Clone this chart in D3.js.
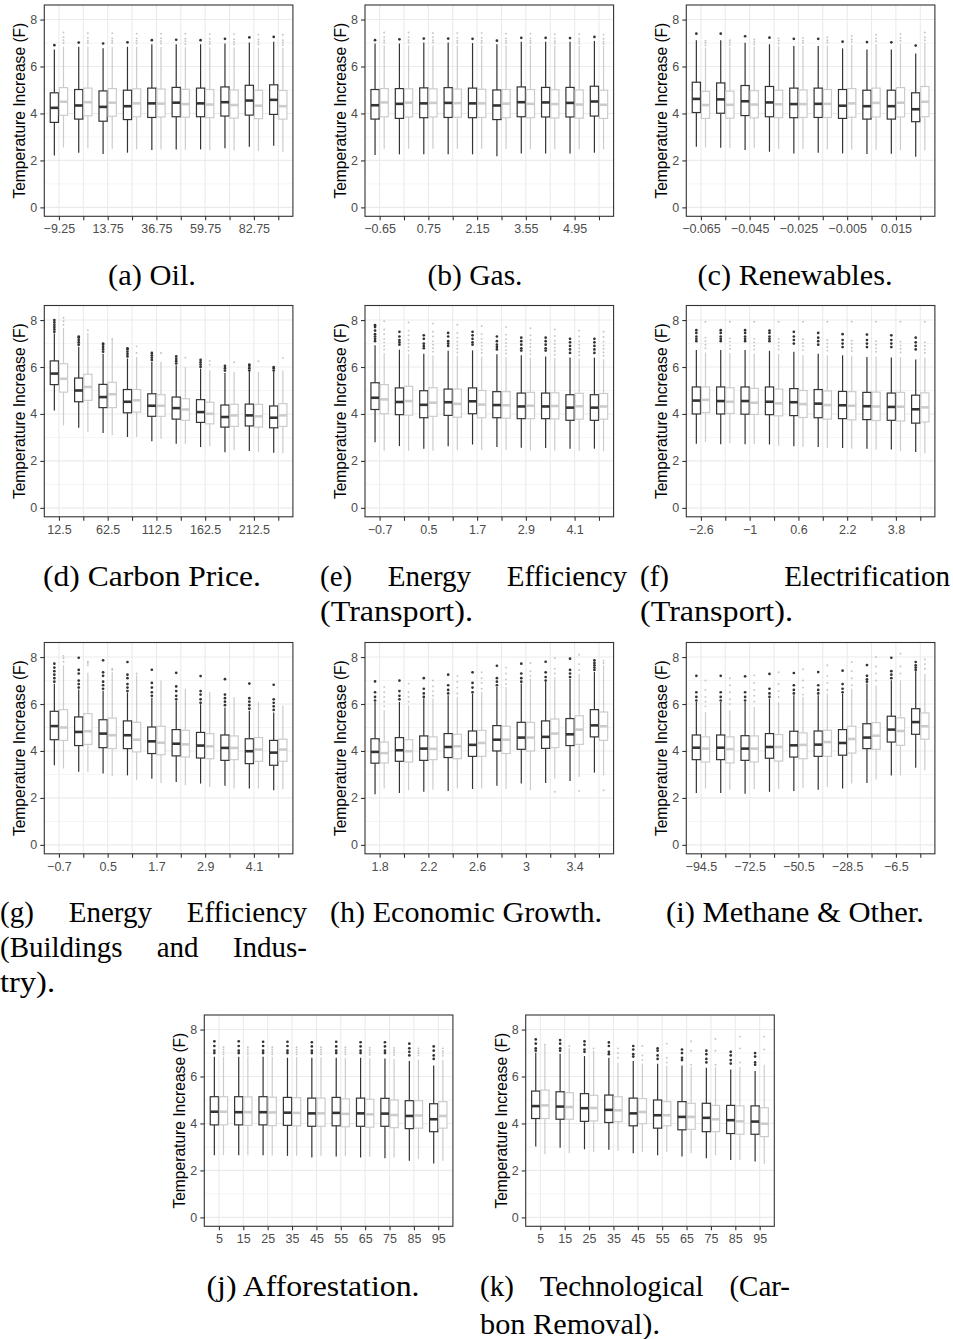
<!DOCTYPE html>
<html><head><meta charset="utf-8">
<script src="https://cdn.jsdelivr.net/npm/d3@7"></script>
<style>body{margin:0;background:#fff}svg{display:block}</style>
</head><body><svg id="c" width="953" height="1339"></svg>
<script>
// ---------- tick / category data ----------
const yTicks = [0, 2, 4, 6, 8];
const yMinor = [1, 3, 5, 7];
const catOil = [-9.25, 2.25, 13.75, 25.25, 36.75, 48.25, 59.75, 71.25, 82.75, 94.25];
const catGas = [-0.65, 0.05, 0.75, 1.45, 2.15, 2.85, 3.55, 4.25, 4.95, 5.65];
const catRen = [-0.065, -0.055, -0.045, -0.035, -0.025, -0.015, -0.005, 0.005, 0.015, 0.025];
const catCarbon = [12.5, 37.5, 62.5, 87.5, 112.5, 137.5, 162.5, 187.5, 212.5, 237.5];
const catEffT = [-0.7, -0.1, 0.5, 1.1, 1.7, 2.3, 2.9, 3.5, 4.1, 4.7];
const catElec = [-2.6, -1.8, -1, -0.2, 0.6, 1.4, 2.2, 3, 3.8, 4.6];
const catEffB = [-0.7, -0.1, 0.5, 1.1, 1.7, 2.3, 2.9, 3.5, 4.1, 4.7];
const catGrowth = [1.8, 2, 2.2, 2.4, 2.6, 2.8, 3, 3.2, 3.4, 3.6];
const catMeth = [-94.5, -83.5, -72.5, -61.5, -50.5, -39.5, -28.5, -17.5, -6.5, 4.5];
const catAff = [5, 15, 25, 35, 45, 55, 65, 75, 85, 95];
const catTech = [5, 15, 25, 35, 45, 55, 65, 75, 85, 95];

// ---------- box stats: [lower whisker, q1, median, q3, upper whisker] ----------
const oilDark = [[2.21,3.62,4.24,4.88,6.72],[2.33,3.76,4.34,5.02,6.84],[2.27,3.67,4.28,4.96,6.78],[2.33,3.74,4.31,4.99,6.84],[2.44,3.83,4.43,5.08,6.95],[2.47,3.86,4.46,5.11,6.95],[2.47,3.86,4.43,5.08,6.95],[2.52,3.89,4.48,5.13,6.98],[2.58,3.93,4.55,5.2,7.02],[2.62,3.96,4.58,5.22,7.05]];
const oilDarkOut = [[6.91],[7.02],[6.98],[7.03],[7.12],[7.14],[7.12],[7.18],[7.24],[7.26]];
const oilLight = [[2.55,3.92,4.5,5.1,6.85],[2.52,3.9,4.48,5.08,6.85],[2.5,3.88,4.46,5.06,6.84],[2.48,3.86,4.43,5.05,6.84],[2.47,3.85,4.42,5.04,6.83],[2.45,3.84,4.4,5.03,6.82],[2.43,3.82,4.38,5.02,6.82],[2.42,3.8,4.36,5.0,6.81],[2.4,3.78,4.33,4.99,6.8],[2.37,3.76,4.31,4.98,6.8]];
const oilLightOut = [[7.0,7.12,7.25,7.45],[7.0,7.1,7.22,7.42],[7.0,7.1,7.2,7.42],[6.98,7.1,7.2,7.4],[6.98,7.08,7.2,7.4],[6.96,7.08,7.18,7.4],[6.96,7.06,7.18,7.38],[6.95,7.05,7.16,7.38],[6.95,7.05,7.15,7.36],[6.92,7.02,7.12,7.35]];

const gasDark = [[2.23,3.76,4.35,5.02,6.98],[2.26,3.79,4.41,5.06,6.98],[2.26,3.82,4.43,5.09,7.02],[2.26,3.83,4.45,5.1,7.02],[2.26,3.82,4.43,5.08,7.0],[2.18,3.74,4.34,5.0,6.95],[2.3,3.86,4.48,5.13,7.05],[2.3,3.85,4.47,5.11,7.05],[2.3,3.85,4.45,5.11,7.05],[2.33,3.89,4.51,5.16,7.09]];
const gasDarkOut = [[7.12],[7.16],[7.19],[7.19],[7.18],[7.1],[7.22],[7.22],[7.21],[7.26]];
const gasLight = [[2.5,3.86,4.47,5.06,6.9],[2.5,3.85,4.46,5.05,6.9],[2.5,3.85,4.45,5.05,6.9],[2.5,3.84,4.44,5.04,6.9],[2.5,3.83,4.43,5.03,6.9],[2.49,3.82,4.42,5.02,6.9],[2.48,3.82,4.41,5.02,6.9],[2.48,3.81,4.4,5.01,6.9],[2.48,3.8,4.38,5.0,6.88],[2.47,3.79,4.37,4.99,6.88]];
const gasLightOut = [[7.02,7.12,7.25,7.45],[7.02,7.12,7.25,7.45],[7.02,7.12,7.25,7.43],[7.0,7.1,7.22,7.42],[7.0,7.1,7.22,7.42],[7.0,7.1,7.2,7.4],[7.0,7.1,7.2,7.4],[6.98,7.08,7.2,7.38],[6.98,7.08,7.18,7.38],[6.96,7.06,7.18,7.36]];

const renDark = [[2.58,4.04,4.62,5.33,7.12],[2.54,4.01,4.6,5.3,7.12],[2.44,3.91,4.52,5.19,7.01],[2.37,3.86,4.47,5.15,6.95],[2.3,3.82,4.4,5.08,6.87],[2.33,3.83,4.41,5.08,6.87],[2.3,3.79,4.33,5.02,6.77],[2.27,3.76,4.31,4.99,6.72],[2.28,3.76,4.31,4.99,6.72],[2.16,3.65,4.18,4.88,6.55]];
const renDarkOut = [[7.4],[7.4],[7.29],[7.23],[7.18],[7.18],[7.06],[7.04],[7.03],[6.89]];
const renLight = [[2.55,3.79,4.36,4.94,6.8],[2.53,3.8,4.37,4.95,6.82],[2.52,3.81,4.38,4.97,6.85],[2.5,3.82,4.39,4.99,6.87],[2.5,3.83,4.4,5.0,6.88],[2.48,3.83,4.41,5.02,6.9],[2.46,3.84,4.43,5.06,6.93],[2.45,3.85,4.45,5.08,6.95],[2.44,3.85,4.46,5.1,6.98],[2.42,3.86,4.5,5.15,7.02]];
const renLightOut = [[6.9,7.0,7.1],[6.92,7.02,7.12],[6.95,7.05,7.15],[6.98,7.1,7.2],[7.0,7.1,7.22],[7.02,7.12,7.25],[7.05,7.15,7.3],[7.08,7.2,7.35],[7.1,7.22,7.38],[7.12,7.25,7.45]];

const carbonDark = [[4.15,5.25,5.72,6.26,7.43],[3.41,4.52,5.0,5.53,6.86],[3.19,4.27,4.72,5.26,6.57],[3.02,4.05,4.52,5.04,6.36],[2.84,3.9,4.35,4.86,6.22],[2.73,3.78,4.25,4.72,6.07],[2.59,3.64,4.08,4.61,5.93],[2.37,3.44,3.87,4.38,5.75],[2.42,3.49,3.94,4.42,5.79],[2.35,3.41,3.84,4.34,5.79]];
const carbonDarkOut = [[7.5,7.6,7.7,7.8,7.9,8.0],[6.95,7.05,7.15,7.25,7.3],[6.65,6.75,6.85,6.95,7.0],[6.45,6.55,6.65,6.75,6.8],[6.3,6.4,6.5,6.6],[6.15,6.25,6.35,6.45],[6.0,6.1,6.2,6.3],[5.85,5.95,6.05],[5.85,5.95,6.05,6.1],[5.85,5.95,6.0]];
const carbonLight = [[3.51,4.93,5.5,6.14,7.66],[3.23,4.58,5.15,5.69,7.45],[3.09,4.27,4.84,5.35,7.17],[3.02,4.08,4.58,5.04,6.43],[2.94,3.9,4.35,4.82,6.22],[2.73,3.73,4.19,4.65,6.0],[2.62,3.58,4.01,4.5,5.86],[2.45,3.47,3.94,4.41,5.79],[2.37,3.44,3.9,4.41,5.79],[2.33,3.47,3.94,4.44,5.86]];
const carbonLightOut = [[7.8,7.95,8.1],[7.57],[7.2],[6.6,6.88],[6.6],[6.4],[6.1,6.26],[6.2],[6.25],[6.38]];

const effTDark = [[2.8,4.19,4.69,5.33,6.93],[2.63,3.97,4.51,5.11,6.74],[2.52,3.84,4.39,4.99,6.57],[2.63,3.94,4.5,5.06,6.69],[2.7,4.01,4.54,5.11,6.71],[2.59,3.84,4.38,4.95,6.54],[2.56,3.8,4.32,4.89,6.5],[2.55,3.8,4.32,4.89,6.45],[2.52,3.73,4.27,4.82,6.4],[2.52,3.73,4.27,4.82,6.4]];
const effTDarkOut = [[7.1,7.2,7.3,7.4,7.55,7.7,7.78],[6.95,7.05,7.15,7.3,7.5],[6.8,6.9,7.0,7.2,7.35],[6.9,7.0,7.1,7.3,7.45],[6.95,7.05,7.2,7.35,7.5],[6.75,6.85,6.95,7.1,7.3],[6.7,6.8,6.95,7.1,7.25],[6.7,6.8,6.95,7.1,7.25],[6.6,6.75,6.9,7.05,7.2],[6.6,6.75,6.9,7.05,7.2]];
const effTLight = [[2.43,4.01,4.62,5.25,6.6],[2.43,3.95,4.55,5.18,6.55],[2.43,3.9,4.48,5.12,6.5],[2.45,3.86,4.43,5.06,6.48],[2.46,3.84,4.4,5.0,6.45],[2.46,3.82,4.37,4.95,6.42],[2.45,3.8,4.35,4.92,6.4],[2.44,3.79,4.34,4.9,6.38],[2.43,3.78,4.33,4.88,6.35],[2.42,3.78,4.32,4.87,6.33]];
const effTLightOut = [[6.75,6.9,7.05,7.2,7.4,7.6,7.95],[6.7,6.85,7.0,7.15,7.35,7.55,7.9],[6.65,6.8,6.95,7.1,7.3,7.5,7.85],[6.62,6.78,6.92,7.08,7.25,7.45,7.8],[6.6,6.75,6.9,7.05,7.2,7.4,7.75],[6.58,6.72,6.88,7.02,7.18,7.38,7.7],[6.55,6.7,6.85,7.0,7.15,7.35,7.65],[6.52,6.68,6.82,6.98,7.12,7.32,7.6],[6.5,6.65,6.8,6.95,7.1,7.3,7.55],[6.48,6.62,6.78,6.92,7.08,7.28,7.5]];

const elecDark = [[2.73,4.0,4.57,5.15,6.72],[2.71,4.0,4.55,5.15,6.72],[2.71,3.99,4.55,5.15,6.72],[2.7,3.97,4.52,5.15,6.69],[2.63,3.93,4.5,5.08,6.65],[2.59,3.84,4.44,5.04,6.57],[2.55,3.8,4.37,4.96,6.5],[2.52,3.76,4.33,4.92,6.43],[2.49,3.73,4.3,4.89,6.4],[2.38,3.61,4.2,4.8,6.32]];
const elecDarkOut = [[7.1,7.2,7.3,7.45,7.57],[7.1,7.2,7.3,7.45,7.57],[7.1,7.2,7.3,7.45,7.57],[7.1,7.2,7.3,7.45,7.55],[7.0,7.15,7.3,7.5],[6.95,7.1,7.25,7.45],[6.85,7.0,7.15,7.4],[6.85,7.0,7.15,7.38],[6.85,7.0,7.15,7.35],[6.75,6.9,7.05,7.25]];
const elecLight = [[2.8,4.06,4.6,5.15,6.62],[2.75,4.02,4.52,5.12,6.6],[2.72,3.98,4.48,5.09,6.58],[2.65,3.92,4.45,5.06,6.55],[2.6,3.85,4.42,5.0,6.5],[2.55,3.78,4.38,4.98,6.5],[2.52,3.75,4.35,4.95,6.48],[2.48,3.72,4.32,4.93,6.45],[2.42,3.7,4.31,4.92,6.42],[2.33,3.66,4.28,4.9,6.4]];
const elecLightOut = [[6.8,6.95,7.1,7.25,7.93],[6.78,6.92,7.08,7.22,7.93],[6.75,6.9,7.05,7.2,7.93],[6.75,6.9,7.05,7.2,7.93],[6.72,6.88,7.02,7.18,7.93],[6.7,6.85,7.0,7.15,7.93],[6.68,6.82,6.98,7.12,7.93],[6.65,6.8,6.95,7.1,7.93],[6.62,6.78,6.92,7.08,7.93],[6.6,6.75,6.9,7.05,7.93]];

const effBDark = [[3.39,4.48,5.06,5.69,6.86],[3.11,4.23,4.81,5.45,6.62],[3.04,4.14,4.74,5.33,6.56],[2.96,4.1,4.67,5.28,6.48],[2.82,3.89,4.41,5.02,6.27],[2.68,3.79,4.31,4.91,6.13],[2.61,3.7,4.23,4.79,5.99],[2.52,3.6,4.13,4.68,5.85],[2.4,3.46,3.99,4.52,5.71],[2.33,3.39,3.93,4.45,5.64]];
const effBDarkOut = [[6.95,7.1,7.25,7.4,7.55,7.72],[6.7,6.85,7.0,7.3,7.45,7.97],[6.65,6.8,6.95,7.2,7.35,7.86],[6.55,6.7,6.85,7.1,7.25,7.79],[6.35,6.5,6.7,6.9,7.46],[6.2,6.35,6.55,6.75,7.33],[6.05,6.2,6.4,6.55,7.19],[5.95,6.1,6.25,6.4,7.06],[5.8,5.95,6.1,6.25,6.87],[5.75,5.9,6.05,6.2,6.82]];
const effBLight = [[3.25,4.45,5.0,5.76,7.65],[3.11,4.28,4.84,5.59,7.33],[2.92,4.1,4.67,5.4,7.36],[2.75,3.96,4.48,5.22,7.22],[2.64,3.84,4.35,5.05,7.0],[2.54,3.74,4.28,4.88,6.65],[2.47,3.67,4.2,4.74,6.51],[2.4,3.63,4.13,4.64,6.3],[2.4,3.56,4.06,4.57,6.09],[2.37,3.56,4.06,4.5,5.94]];
const effBLightOut = [[7.8,7.95,8.05],[7.65,7.75,7.8],[7.45,7.5],[7.3],[],[],[],[],[],[]];

const growthDark = [[2.16,3.48,3.96,4.52,6.09],[2.21,3.56,4.03,4.57,6.09],[2.26,3.6,4.1,4.64,6.23],[2.3,3.72,4.17,4.74,6.37],[2.38,3.77,4.26,4.85,6.44],[2.52,4.0,4.48,5.08,6.72],[2.61,4.07,4.57,5.22,6.87],[2.64,4.11,4.6,5.28,6.94],[2.72,4.23,4.71,5.38,7.08],[3.08,4.6,5.09,5.76,7.36]];
const growthDarkOut = [[6.15,6.3,6.5,6.96],[6.2,6.35,6.55,7.0],[6.3,6.45,6.65,7.1],[6.45,6.6,6.8,7.25],[6.5,6.7,6.9,7.35],[6.8,6.95,7.1,7.63],[6.95,7.1,7.3,7.72],[7.0,7.15,7.35,7.8],[7.15,7.3,7.45,7.93],[7.45,7.55,7.65,7.75,7.86]];
const growthLight = [[2.4,3.49,3.91,4.38,5.73],[2.33,3.53,3.99,4.48,5.94],[2.35,3.63,4.09,4.6,6.23],[2.4,3.67,4.2,4.71,6.3],[2.4,3.77,4.34,4.88,6.51],[2.38,3.89,4.48,5.05,6.72],[2.33,4.0,4.57,5.22,7.08],[2.82,4.14,4.74,5.36,7.15],[2.89,4.28,4.91,5.5,7.29],[2.96,4.45,5.05,5.66,7.65]];
const growthLightOut = [[5.9,6.1,6.3,6.5,6.72],[6.1,6.3,6.5,6.87],[6.35,6.55,6.75,7.0],[6.45,6.7,6.95,7.2],[6.65,6.9,7.1,7.35],[6.85,7.05,7.3,7.55],[7.2,7.4,7.75],[7.3,7.5,7.95,2.26],[7.45,7.7,8.1,2.3],[7.75,7.85,2.33]];

const methDark = [[2.21,3.63,4.14,4.68,6.09],[2.21,3.63,4.14,4.68,6.09],[2.18,3.6,4.1,4.65,6.09],[2.26,3.69,4.17,4.74,6.23],[2.3,3.74,4.24,4.84,6.37],[2.35,3.77,4.27,4.85,6.37],[2.4,3.82,4.34,4.91,6.44],[2.64,4.1,4.57,5.16,6.87],[2.96,4.38,4.91,5.48,7.01],[3.29,4.71,5.23,5.8,7.4]];
const methDarkOut = [[6.15,6.3,6.5,7.2],[6.15,6.3,6.5,7.2],[6.15,6.3,6.5,7.18],[6.3,6.45,6.65,7.28],[6.45,6.6,6.8,7.32],[6.45,6.6,6.8,7.36],[6.5,6.65,6.85,7.42],[6.95,7.05,7.2,7.66],[7.1,7.25,7.4,7.97],[7.45,7.55,7.65,7.79]];
const methLight = [[2.4,3.53,4.1,4.6,5.66],[2.35,3.49,4.08,4.6,5.73],[2.37,3.53,4.1,4.64,5.87],[2.38,3.57,4.17,4.7,6.09],[2.43,3.67,4.26,4.77,6.3],[2.47,3.77,4.38,4.88,6.44],[2.61,3.91,4.51,5.05,6.65],[2.78,4.07,4.65,5.21,6.79],[2.96,4.24,4.85,5.41,7.01],[3.18,4.5,5.05,5.62,7.29]];
const methLightOut = [[5.9,6.1,6.3,6.6,7.0],[6.0,6.2,6.5,6.8,7.1],[6.1,6.35,6.6,6.9,7.22],[6.3,6.55,6.85,7.35],[6.4,6.7,7.0,7.48],[6.6,6.9,7.2,7.65],[6.8,7.1,7.4,7.79],[7.0,7.3,7.6,8.0],[7.3,7.6,8.14],[7.5,7.7,7.9]];

const affDark = [[2.65,3.94,4.5,5.14,6.84],[2.65,3.94,4.48,5.14,6.84],[2.65,3.94,4.48,5.14,6.84],[2.62,3.92,4.46,5.11,6.8],[2.55,3.88,4.43,5.08,6.8],[2.59,3.9,4.45,5.11,6.8],[2.55,3.88,4.43,5.08,6.8],[2.52,3.88,4.42,5.07,6.77],[2.41,3.78,4.32,4.97,6.66],[2.29,3.65,4.18,4.84,6.47]];
const affDarkOut = [[7.0,7.1,7.3,7.5],[7.0,7.1,7.3,7.5],[7.0,7.1,7.3,7.48],[7.0,7.1,7.3,7.48],[7.0,7.1,7.28,7.46],[7.0,7.1,7.28,7.48],[7.0,7.1,7.28,7.46],[7.0,7.1,7.28,7.46],[6.9,7.05,7.2,7.4],[6.75,6.9,7.1,7.28]];
const affLight = [[2.65,3.94,4.5,5.14,6.85],[2.65,3.92,4.48,5.13,6.85],[2.64,3.91,4.47,5.12,6.84],[2.63,3.9,4.45,5.1,6.83],[2.62,3.88,4.43,5.08,6.82],[2.6,3.86,4.41,5.05,6.8],[2.58,3.84,4.39,5.03,6.78],[2.55,3.82,4.36,5.0,6.75],[2.48,3.8,4.34,4.97,6.72],[2.41,3.8,4.32,4.93,6.7]];
const affLightOut = [[6.95,7.05,7.15,7.25],[6.95,7.05,7.15,7.25],[6.95,7.05,7.15,7.25],[6.95,7.05,7.15,7.25],[6.95,7.05,7.15,7.25],[6.95,7.05,7.15,7.25],[6.93,7.03,7.13,7.23],[6.92,7.02,7.12,7.22],[6.9,7.0,7.1,7.2],[6.88,6.98,7.08,7.2]];

const techDark = [[3.02,4.21,4.74,5.38,7.01],[2.97,4.18,4.72,5.35,6.97],[2.9,4.09,4.65,5.27,6.87],[2.88,4.04,4.58,5.21,6.8],[2.73,3.9,4.43,5.08,6.66],[2.65,3.8,4.35,5.0,6.54],[2.59,3.73,4.28,4.93,6.47],[2.52,3.65,4.24,4.86,6.37],[2.44,3.57,4.14,4.77,6.3],[2.38,3.54,4.08,4.75,6.23]];
const techDarkOut = [[7.1,7.2,7.4,7.58],[7.1,7.2,7.4,7.55],[7.05,7.15,7.35,7.5],[6.95,7.05,7.3,7.45],[6.85,6.95,7.15,7.3],[6.75,6.9,7.1,7.2],[6.7,6.8,7.0,7.15],[6.6,6.75,6.95,7.1],[6.55,6.7,6.9,7.05],[6.5,6.6,6.85,7.0]];
const techLight = [[2.69,4.21,4.77,5.42,7.3],[2.73,4.18,4.7,5.31,7.2],[2.79,4.11,4.66,5.2,7.1],[2.83,4.08,4.56,5.14,6.6],[2.79,3.99,4.49,5.06,6.55],[2.79,3.9,4.35,4.93,6.45],[2.73,3.75,4.28,4.86,6.4],[2.65,3.65,4.18,4.77,6.4],[2.44,3.54,4.09,4.75,6.4],[2.27,3.44,3.99,4.67,6.5]];
const techLightOut = [[7.35],[7.3],[7.2],[6.8,7.0,7.2],[6.7,6.9,7.3],[6.6,6.8,7.4],[6.5,7.1,7.5],[6.5,7.1,7.6],[6.6,7.2,7.7],[7.15,7.7]];

// ---------- captions (text) ----------
const captionLines = [
  {t:"(a) Oil.", x:152, y:285, w:88, mode:"center"},
  {t:"(b) Gas.", x:475, y:285, w:95, mode:"center"},
  {t:"(c) Renewables.", x:795, y:285, w:195, mode:"center"},
  {t:"(d) Carbon Price.", x:152, y:586, w:218, mode:"center"},
  {t:"(e) Energy Efficiency", x:320, y:586, w:307, mode:"justify"},
  {t:"(Transport).", x:320, y:621, w:153, mode:"left"},
  {t:"(f) Electrification", x:640, y:586, w:310, mode:"justify"},
  {t:"(Transport).", x:640, y:621, w:153, mode:"left"},
  {t:"(g) Energy Efficiency", x:0, y:922, w:307, mode:"justify"},
  {t:"(Buildings and Indus-", x:0, y:957, w:307, mode:"justify"},
  {t:"try).", x:0, y:992, w:55, mode:"left"},
  {t:"(h) Economic Growth.", x:466, y:922, w:272, mode:"center"},
  {t:"(i) Methane & Other.", x:795, y:922, w:258, mode:"center"},
  {t:"(j) Afforestation.", x:313, y:1296, w:213, mode:"center"},
  {t:"(k) Technological (Car-", x:480, y:1296, w:310, mode:"justify"},
  {t:"bon Removal).", x:480, y:1334, w:180, mode:"left"}
];

// ---------- panel table built from the arrays ----------
const panels = [
  {cats:catOil, dark:oilDark, darkOut:oilDarkOut, light:oilLight, lightOut:oilLightOut, left:44.3, top:5, all:false},
  {cats:catGas, dark:gasDark, darkOut:gasDarkOut, light:gasLight, lightOut:gasLightOut, left:365, top:5, all:false},
  {cats:catRen, dark:renDark, darkOut:renDarkOut, light:renLight, lightOut:renLightOut, left:686.3, top:5, all:false},
  {cats:catCarbon, dark:carbonDark, darkOut:carbonDarkOut, light:carbonLight, lightOut:carbonLightOut, left:44.3, top:305.5, all:false},
  {cats:catEffT, dark:effTDark, darkOut:effTDarkOut, light:effTLight, lightOut:effTLightOut, left:365, top:305.5, all:false},
  {cats:catElec, dark:elecDark, darkOut:elecDarkOut, light:elecLight, lightOut:elecLightOut, left:686.3, top:305.5, all:false},
  {cats:catEffB, dark:effBDark, darkOut:effBDarkOut, light:effBLight, lightOut:effBLightOut, left:44.3, top:642.5, all:false},
  {cats:catGrowth, dark:growthDark, darkOut:growthDarkOut, light:growthLight, lightOut:growthLightOut, left:365, top:642.5, all:false},
  {cats:catMeth, dark:methDark, darkOut:methDarkOut, light:methLight, lightOut:methLightOut, left:686.3, top:642.5, all:false},
  {cats:catAff, dark:affDark, darkOut:affDarkOut, light:affLight, lightOut:affLightOut, left:204.3, top:1015, all:true},
  {cats:catTech, dark:techDark, darkOut:techDarkOut, light:techLight, lightOut:techLightOut, left:525.7, top:1015, all:true}
];

const PW = 248.6, PH = 211.3;
const yDomain = [-0.38, 8.62];
const SANS = "'Liberation Sans', Arial, Helvetica, sans-serif";
const GRID = "#ebebeb";
const svg = d3.select("#c");
svg.append("rect").attr("width",953).attr("height",1339).attr("fill","#fff");

const fmtCat = v => String(v).replace("-", "\u2212");

function drawPanel(p){
  const g = svg.append("g").attr("transform", `translate(${p.left},${p.top})`);
  const idx = d3.range(p.cats.length);
  const x = d3.scalePoint().domain(idx).range([0, PW]).padding(0.6);
  const y = d3.scaleLinear().domain(yDomain).range([PH, 0]);
  const step = x.step();

  g.append("rect").attr("width", PW).attr("height", PH).attr("fill", "#fff");
  g.append("g").selectAll("line").data(yMinor).join("line")
    .attr("x1",0).attr("x2",PW).attr("y1",d=>y(d)).attr("y2",d=>y(d))
    .attr("stroke",GRID).attr("stroke-width",0.55);
  g.append("g").selectAll("line").data(yTicks).join("line")
    .attr("x1",0).attr("x2",PW).attr("y1",d=>y(d)).attr("y2",d=>y(d))
    .attr("stroke",GRID).attr("stroke-width",1.1);
  g.append("g").selectAll("line").data(idx).join("line")
    .attr("x1",d=>x(d)).attr("x2",d=>x(d)).attr("y1",0).attr("y2",PH)
    .attr("stroke",GRID).attr("stroke-width",1.1);

  const bw = step * 0.3375, off = step * 0.1875;
  const series = [
    {data:p.dark, out:p.darkOut, col:"#333333", dir:-1, r:1.35, oc:"#333333"},
    {data:p.light, out:p.lightOut, col:"#cccccc", dir:1, r:0.95, oc:"#c4c4c4"}
  ];
  series.forEach(s => {
    const items = s.data.map((v,i) => ({i, lo:v[0], q1:v[1], med:v[2], q3:v[3], hi:v[4], out:s.out[i] || []}));
    const cx = d => x(d.i) + s.dir * off;
    const sg = g.append("g");
    sg.selectAll(".wu").data(items).join("line").attr("class","wu")
      .attr("x1",cx).attr("x2",cx).attr("y1",d=>y(d.q3)).attr("y2",d=>y(d.hi))
      .attr("stroke",s.col).attr("stroke-width",1.2);
    sg.selectAll(".wl").data(items).join("line").attr("class","wl")
      .attr("x1",cx).attr("x2",cx).attr("y1",d=>y(d.q1)).attr("y2",d=>y(d.lo))
      .attr("stroke",s.col).attr("stroke-width",1.2);
    sg.selectAll(".bx").data(items).join("rect").attr("class","bx")
      .attr("x",d=>cx(d)-bw/2).attr("width",bw)
      .attr("y",d=>y(d.q3)).attr("height",d=>y(d.q1)-y(d.q3))
      .attr("fill","#fff").attr("stroke",s.col).attr("stroke-width",1.2);
    sg.selectAll(".md").data(items).join("line").attr("class","md")
      .attr("x1",d=>cx(d)-bw/2).attr("x2",d=>cx(d)+bw/2)
      .attr("y1",d=>y(d.med)).attr("y2",d=>y(d.med))
      .attr("stroke",s.col).attr("stroke-width",2.6);
    const outs = items.flatMap(d => d.out.map(v => ({i:d.i, v})));
    sg.selectAll(".ot").data(outs).join("circle").attr("class","ot")
      .attr("cx",d=>x(d.i)+s.dir*off).attr("cy",d=>y(d.v)).attr("r",s.r)
      .attr("fill",s.oc);
  });

  g.append("rect").attr("width",PW).attr("height",PH)
    .attr("fill","none").attr("stroke","#333333").attr("stroke-width",1.1);

  const ya = g.append("g").call(d3.axisLeft(y).tickValues(yTicks).tickSize(4).tickPadding(3).tickFormat(d3.format("d")));
  ya.select(".domain").remove();
  ya.attr("font-family", SANS).attr("font-size", 12.5);
  ya.selectAll("line").attr("stroke","#333333").attr("stroke-width",1.1);
  ya.selectAll("text").attr("fill","#4d4d4d");

  const xa = g.append("g").attr("transform",`translate(0,${PH})`)
    .call(d3.axisBottom(x).tickSize(4).tickPadding(4)
      .tickFormat(i => (p.all || i % 2 === 0) ? fmtCat(p.cats[i]) : ""));
  xa.select(".domain").remove();
  xa.attr("font-family", SANS).attr("font-size", 12.5);
  xa.selectAll("line").attr("stroke","#333333").attr("stroke-width",1.1);
  xa.selectAll("text").attr("fill","#4d4d4d");

  g.append("text")
    .attr("transform",`translate(-19,${PH/2}) rotate(-90)`)
    .attr("text-anchor","middle")
    .attr("font-family",SANS).attr("font-size",15.6).attr("fill","#000")
    .text("Temperature Increase (F)");
}
panels.forEach(drawPanel);

// captions
const SERIF = "'Liberation Serif', 'Times New Roman', serif";
const cg = svg.append("g").attr("font-family", SERIF).attr("font-size", 29).attr("fill", "#000");
captionLines.forEach(c => {
  if (c.mode === "justify") {
    const words = c.t.split(" ");
    const nodes = words.map(w => cg.append("text").attr("y", c.y).text(w));
    const widths = nodes.map(n => n.node().getComputedTextLength());
    const gap = (c.w - d3.sum(widths)) / (words.length - 1);
    let xx = c.x;
    nodes.forEach((n, k) => { n.attr("x", xx); xx += widths[k] + gap; });
  } else {
    const x0 = c.mode === "center" ? c.x - c.w / 2 : c.x;
    cg.append("text").attr("x", x0).attr("y", c.y)
      .attr("textLength", c.w).attr("lengthAdjust", "spacingAndGlyphs").text(c.t);
  }
});
</script></body></html>
